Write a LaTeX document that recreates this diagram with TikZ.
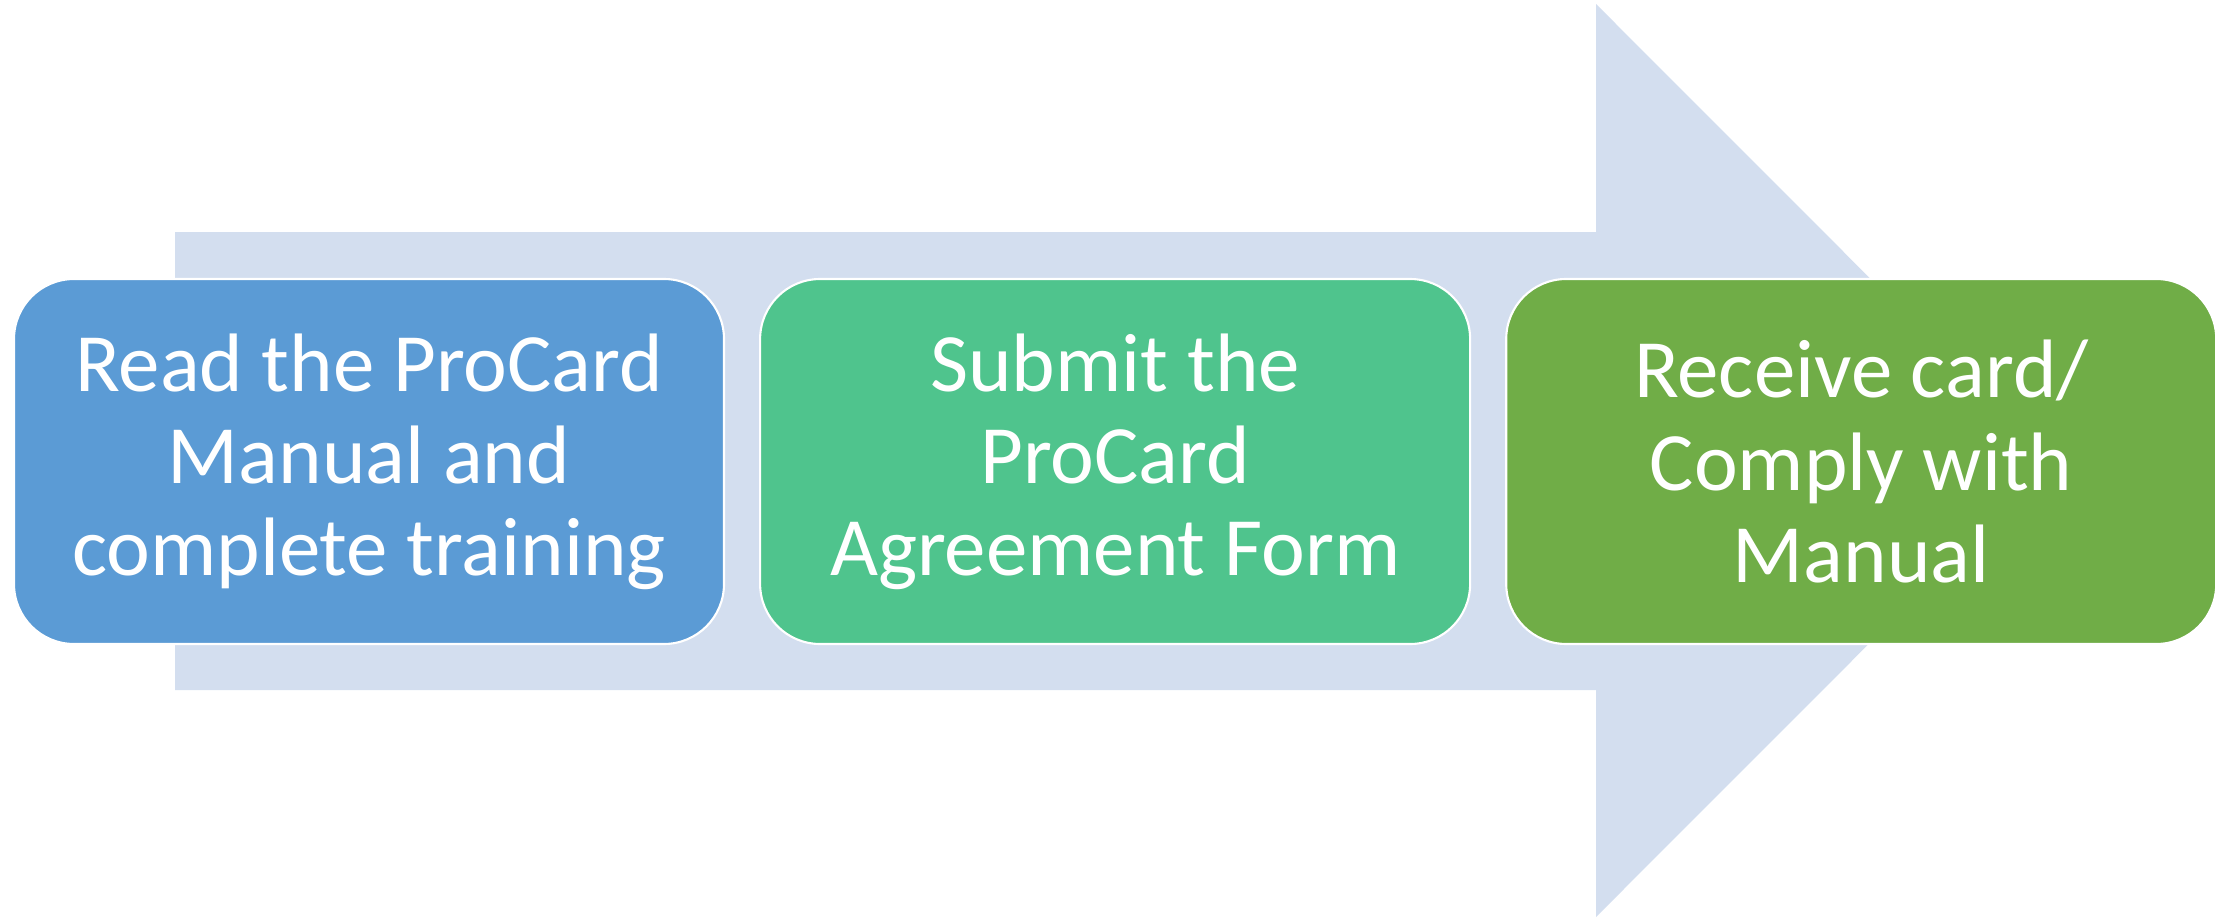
\documentclass[tikz,border=0pt]{standalone}
\usepackage{fontspec}
\setmainfont{Carlito}
\usepackage{tikz}
\usetikzlibrary{positioning}
\definecolor{bandcol}{HTML}{D3DEEF}
\definecolor{stepblue}{HTML}{5B9BD5}
\definecolor{stepteal}{HTML}{4FC48D}
\definecolor{stepgreen}{HTML}{70AD47}

\begin{document}
\begin{tikzpicture}[
        stepbox/.style={draw=white, line width=0.6pt, rounded corners=0.6cm,
          minimum width=7.1cm, minimum height=3.65cm, inner sep=0pt,
          text=white, align=center, font=\fontsize{23.6}{26.2}\selectfont},
        node distance=0.34cm]
        \useasboundingbox (0,0) rectangle (22.34,9.17);
        % big arrow behind the steps
        \fill[bandcol] (1.75,6.85) -- (15.96,6.85) -- (15.96,9.13) -- (20.52,4.565)
          -- (15.96,0) -- (15.96,2.27) -- (1.75,2.27) -- cycle;
        \node[stepbox, fill=stepblue] (read) at (3.69,4.555) {Read the ProCard\\Manual and\\complete training};
        \node[stepbox, fill=stepteal, right=of read] (submit) {Submit the\\ProCard\\Agreement Form};
        \node[stepbox, fill=stepgreen, right=of submit] (receive) {Receive card/\\Comply with\\Manual};
\end{tikzpicture}
\end{document}
